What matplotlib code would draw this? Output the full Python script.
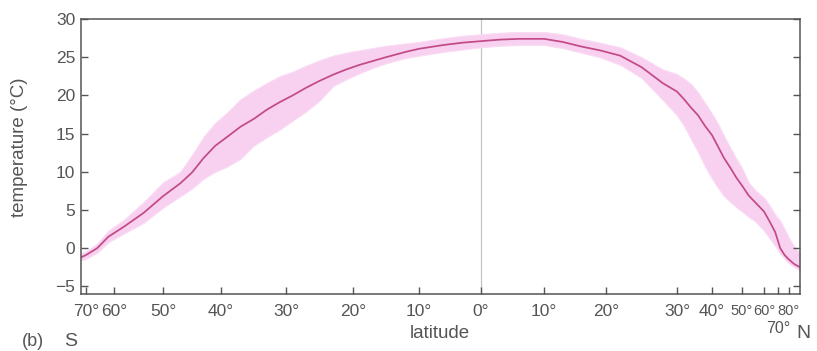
import matplotlib
matplotlib.use("Agg")
import matplotlib.pyplot as plt
import matplotlib.transforms as mtransforms
import numpy as np

# zonal mean sea-surface temperature (°C) and its range across longitude/season
lat = [-72, -70, -66, -62, -58, -54, -50, -47, -45, -43, -41, -39, -37, -35,
       -33, -31, -29, -27, -25, -23, -21, -19, -17, -15, -12, -10, -6, -3,
       0, 3, 6, 10, 13, 16, 19, 22, 25, 28, 30, 32, 34, 36, 38, 40, 42, 44,
       46, 48, 50, 53, 56, 60, 64, 68, 72, 76, 80, 85, 90]
temp_mean = [-1.2, -0.9, 0.0, 1.5, 2.8, 4.6, 6.8, 8.5, 9.9, 11.8, 13.4, 14.6,
             15.9, 16.9, 18.1, 19.1, 20.0, 21.0, 21.9, 22.7, 23.4, 24.0,
             24.5, 25.0, 25.7, 26.1, 26.6, 26.9, 27.1, 27.3, 27.4, 27.4,
             27.0, 26.4, 25.9, 25.2, 23.7, 21.6, 20.5, 19.5, 18.4, 17.4,
             16.0, 14.8, 13.3, 11.8, 10.6, 9.3, 8.2, 6.9, 6.0, 4.8, 3.5, 2.1,
             0.0, -0.9, -1.5, -2.1, -2.5]
temp_hi = [-0.7, -0.4, 0.6, 2.3, 3.7, 6.0, 8.6, 10.0, 12.2, 14.6, 16.4, 17.8,
           19.5, 20.6, 21.6, 22.5, 23.1, 23.9, 24.6, 25.2, 25.6, 25.9, 26.2,
           26.5, 26.8, 27.0, 27.5, 27.8, 28.0, 28.2, 28.3, 28.3, 28.0, 27.4,
           26.9, 26.3, 25.0, 23.4, 22.8, 22.2, 21.5, 20.4, 19.0, 17.6, 16.3,
           14.7, 13.2, 11.8, 10.5, 8.6, 7.6, 6.6, 5.6, 4.4, 3.6, 2.5, 1.3,
           0.2, -0.7]
temp_lo = [-1.6, -1.4, -0.6, 0.8, 1.9, 3.3, 5.3, 6.8, 7.8, 9.1, 10.0, 10.7,
           11.7, 13.4, 14.5, 15.5, 16.7, 17.9, 19.3, 21.2, 22.1, 22.9, 23.6,
           24.2, 24.9, 25.2, 25.7, 26.0, 26.3, 26.5, 26.6, 26.6, 26.2, 25.6,
           25.0, 24.0, 22.3, 19.4, 17.4, 16.0, 14.3, 12.6, 10.7, 9.1, 7.9,
           6.8, 6.1, 5.4, 4.8, 4.1, 3.5, 2.3, 1.3, 0.3, -0.7, -1.4, -2.0,
           -2.5, -2.9]

tick_lat = [-70, -60, -50, -40, -30, -20, -10, 0, 10, 20, 30, 40, 50, 60,
            70, 80]
tick_labels = ["70°", "60°", "50°", "40°", "30°", "20°", "10°", "0°", "10°",
               "20°", "30°", "40°", "50°", "60°", "", "80°"]
# 70°N has no room in the tick row and sits one line lower
low_tick_lat = 70
low_tick_label = "70°"

# latitude axis is stretched by ocean area rather than linear in degrees
warp_lat = np.array([-72, -70, -60, -50, -40, -30, -20, -10, 0, 10, 20, 30,
                     40, 50, 60, 70, 80, 90], dtype=float)
warp_pos = np.array([81, 86, 114, 163, 221, 286, 353, 419, 481, 544, 606,
                     677, 712, 742, 764, 778, 789, 800], dtype=float)


def _fwd(x):
    return np.interp(x, warp_lat, warp_pos)


def _inv(x):
    return np.interp(x, warp_pos, warp_lat)


TXT = "#555555"
plt.rcParams["font.family"] = ["Liberation Sans", "DejaVu Sans"]

fig = plt.figure(figsize=(8.17, 3.51), dpi=100)
fig.patch.set_facecolor("white")
ax = fig.add_axes([81 / 817, 1 - 294 / 351, (800 - 81) / 817, (294 - 19) / 351])

ax.set_xscale("function", functions=(_fwd, _inv))
ax.fill_between(lat, temp_lo, temp_hi, color="#f8d0f0", lw=0.8,
                edgecolor="#fadcf4")
ax.plot(lat, temp_mean, color="#c24a86", lw=1.25, solid_joinstyle="round")
ax.axvline(0, color="#c4c4c4", lw=0.9, zorder=0)

ax.set_xlim(-72, 90)
ax.set_ylim(-6, 30)
ax.set_yticks(range(-5, 31, 5))
ax.set_yticklabels(["\u22125"] + [str(v) for v in range(0, 31, 5)])
ax.set_xticks(tick_lat)
ax.set_xticklabels(tick_labels)

ax.tick_params(axis="y", direction="in", length=5, width=1, color="#555555",
               labelsize=12.5, labelcolor=TXT, left=True, right=True, pad=4)
ax.tick_params(axis="x", direction="in", length=5, width=1, color="#555555",
               labelsize=12.5, labelcolor=TXT, bottom=True, top=False, pad=7)
# the high northern latitudes are squeezed together, so shrink those labels
for t, la in zip(ax.get_xticklabels(), tick_lat):
    if la >= 50:
        t.set_fontsize(10.5)
for s in ax.spines.values():
    s.set_color("#555555")
    s.set_linewidth(1.1)

trans = mtransforms.blended_transform_factory(ax.transData, ax.transAxes)
ax.text(low_tick_lat, -0.125, low_tick_label, transform=trans, fontsize=11.5,
        color=TXT, ha="center", va="center", clip_on=False)

ax.set_ylabel("temperature (°C)", fontsize=13.5, color=TXT)
ax.yaxis.set_label_coords(-0.074, 0.535)
fig.text(440 / 817, 1 - 333 / 351, "latitude", fontsize=13.5, color=TXT,
         ha="center", va="center")
fig.text(33 / 817, 1 - 341 / 351, "(b)", fontsize=13, color=TXT,
         ha="center", va="center")
fig.text(71 / 817, 1 - 341 / 351, "S", fontsize=14, color=TXT,
         ha="center", va="center")
fig.text(803 / 817, 1 - 333 / 351, "N", fontsize=14, color=TXT,
         ha="center", va="center")

fig.savefig("out.png", dpi=100, facecolor="white")
